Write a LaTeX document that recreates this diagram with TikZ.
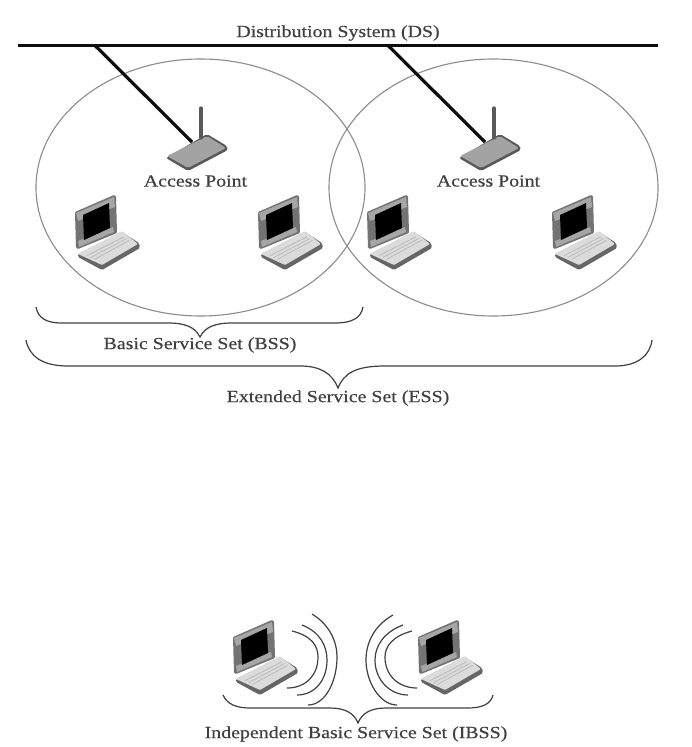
\documentclass[tikz,border=0pt]{standalone}
\usepackage{fontspec}
\setmainfont[FakeStretch=1.17,FakeBold=0.4]{Liberation Serif}
\usetikzlibrary{calc,shapes.geometric}
\tikzset{
  lbl/.style={font=\fontsize{17}{20}\selectfont, text=black!75, inner sep=0pt},
  backbone/.style={draw=black!95, line width=3.2pt},
  link/.style={draw=black!95, line width=3.2pt},
  cell/.style={draw=black!45, line width=1.1pt, ellipse, minimum width=329pt, minimum height=257pt, inner sep=0pt},
  bracepath/.style={draw=black!75, line width=1.2pt},
  wave/.style={draw=black!75, line width=1.2pt},
  laptop/.pic={
    % base underside
    \fill[black!60, rounded corners=1.5pt] (3,44) -- (27,57) -- (65,35) -- (64,30) -- (47,19) -- (3,41) -- cycle;
    % base top
    \fill[black!14, rounded corners=1pt] (3,41) -- (47,18) -- (63,31) -- (27,52) -- cycle;
    \foreach \t in {0.2,0.4,0.6}{
      \draw[black!28, line width=.7pt] ($(8,41)!\t!(27,50)$) -- ($(46,22)!\t!(60,31)$);
    }
    % screen
    \fill[black!55, rounded corners=1pt] (0,-1) -- (39,-18) -- (41,-17) -- (42,20) -- (3,36) -- (1,35) -- cycle;
    \fill[black!35] (1,0) -- (39,-16) -- (40,-6) -- (3,8) -- cycle;
    \fill[black!35] (3,28) -- (38,14) -- (39,19) -- (4,34) -- cycle;
    \fill[black] (8,2) -- (34,-10) -- (35,15) -- (9,27) -- cycle;
  },
  accesspoint/.pic={
    \fill[black!65, rounded corners=2pt] (-34,18) -- (-12,31) -- (28,10) -- (27,6) -- (7,-6) -- cycle;
    \fill[black!36, rounded corners=2pt] (-33,16) -- (7,-4) -- (26,8) -- (-12,28) -- cycle;
    \draw[black!65, line width=3.2pt, line cap=round] (1,-32) -- (1,-2);
  },
}
\begin{document}
\begin{tikzpicture}[x=1pt,y=-1pt]
\useasboundingbox (0,0) rectangle (692,747);
\fill[white] (0,0) rectangle (692,747);

% cells
\node[cell] (cellA) at (200.5,187.5) {};
\node[cell] (cellB) at (493.5,187.5) {};

% distribution system
\coordinate (dsL) at (18,45.5);
\coordinate (dsR) at (658,45.5);
\coordinate (tapA) at (95,45.5);
\coordinate (tapB) at (388,45.5);
\coordinate (apA) at (192,142);
\coordinate (apB) at (485,142);
\draw[backbone] (dsL) -- (dsR);
\draw[link] (tapA) -- (apA);
\draw[link] (tapB) -- (apB);
\node[lbl] (dsText) at (338,33) {Distribution System (DS)};

% access points
\pic at (200,140) {accesspoint};
\pic at (493,140) {accesspoint};
\node[lbl] (apTextA) at (195.5,181) {Access Point};
\node[lbl] (apTextB) at (488.5,181) {Access Point};

% laptops
\pic at (75,213) {laptop};
\pic at (258,213) {laptop};
\pic at (367,213) {laptop};
\pic at (552,213) {laptop};
\pic at (233,638) {laptop};
\pic at (418,638) {laptop};

% braces
\draw[bracepath] (36,307) .. controls (38,318) and (46,323) .. (62,323)
  -- (168,323) .. controls (185,323) and (195,327) .. (200,337)
  .. controls (205,327) and (215,323) .. (232,323) -- (335,323)
  .. controls (352,323) and (361,318) .. (363,307);
\node[lbl] (bssText) at (200,345) {Basic Service Set (BSS)};

\draw[bracepath] (26,340) .. controls (29,356) and (42,366) .. (68,366)
  -- (300,366) .. controls (320,366) and (332,373) .. (338,388)
  .. controls (344,373) and (356,366) .. (385,366) -- (615,366)
  .. controls (637,366) and (650,356) .. (652,340);
\node[lbl] (essText) at (338,398) {Extended Service Set (ESS)};

\draw[bracepath] (223,695) .. controls (227,704) and (236,708) .. (250,708)
  -- (330,708) .. controls (345,708) and (354,713) .. (358,723)
  .. controls (362,713) and (371,708) .. (386,708) -- (468,708)
  .. controls (482,708) and (491,704) .. (493,695);
\node[lbl] (ibssText) at (356,734) {Independent Basic Service Set (IBSS)};

% radio waves
\draw[wave] (292,631) .. controls (312,636) and (318,646) .. (318,657) .. controls (318,675) and (306,688) .. (287,688);
\draw[wave] (302,625) .. controls (320,632) and (327,646) .. (327,660) .. controls (327,680) and (315,695) .. (297,695);
\draw[wave] (312,614) .. controls (330,625) and (337,642) .. (337,657) .. controls (337,682) and (325,705) .. (308,705);
\draw[wave] (412,631) .. controls (393,636) and (385,646) .. (385,657) .. controls (385,675) and (398,688) .. (417,688);
\draw[wave] (403,625) .. controls (384,632) and (375,646) .. (375,660) .. controls (375,680) and (390,695) .. (408,695);
\draw[wave] (393,615) .. controls (375,625) and (366,642) .. (366,660) .. controls (366,682) and (380,705) .. (397,705);
\end{tikzpicture}
\end{document}
